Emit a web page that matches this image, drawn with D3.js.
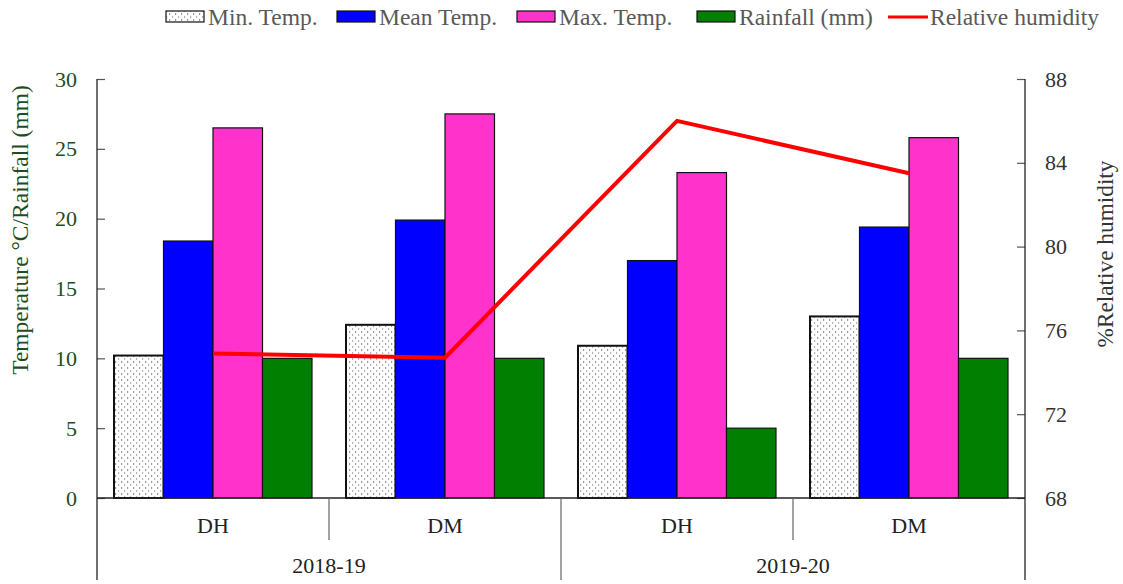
<!DOCTYPE html>
<html><head><meta charset="utf-8">
<script src="https://cdn.jsdelivr.net/npm/d3@7"></script>
<style>body{margin:0;background:#fff}svg{display:block}svg text{font-family:"Liberation Serif","DejaVu Serif",serif !important}</style>
</head><body>
<svg id="c" width="1123" height="584" font-family="Liberation Serif"></svg>
<script>
const groups = ["2018-19|DH","2018-19|DM","2019-20|DH","2019-20|DM"];
const subLabels = ["DH","DM","DH","DM"];
const years = ["2018-19","2019-20"];
const seriesNames = ["Min. Temp.","Mean Temp.","Max. Temp.","Rainfall (mm)"];
const minTemp = [10.2, 12.4, 10.9, 13.0];
const meanTemp = [18.4, 19.9, 17.0, 19.4];
const maxTemp = [26.5, 27.5, 23.3, 25.8];
const rainfall = [10.0, 10.0, 5.0, 10.0];
const humidity = [74.9, 74.7, 86.0, 83.5];
const leftTicks = [0,5,10,15,20,25,30];
const rightTicks = [68,72,76,80,84,88];
const colors = ["url(#dots)","#0000ff","#ff33cc","#007f00"];

const FONT = "Liberation Serif";
const svg = d3.select("#c");
const L = 97, R = 1025, T = 79, B = 498;
const defs = svg.append("defs");
const pat = defs.append("pattern").attr("id","dots").attr("patternUnits","userSpaceOnUse")
  .attr("width",6).attr("height",6);
pat.append("rect").attr("width",6).attr("height",6).attr("fill","#fff");
pat.append("path").attr("d","M1,1 L2.2,2 L1,3").attr("stroke","#777").attr("stroke-width",0.8).attr("fill","none");
pat.append("path").attr("d","M4,4 L5.2,5 L4,6").attr("stroke","#999").attr("stroke-width",0.8).attr("fill","none");

const x0 = d3.scaleBand().domain(groups).range([L,R]).paddingInner(0).paddingOuter(0);
const x1 = d3.scaleBand().domain(seriesNames).range([17, x0.bandwidth()-17]);
const y = d3.scaleLinear().domain([0,30]).range([B,T]);
const y2 = d3.scaleLinear().domain([68,88]).range([B,T]);
const data = [minTemp, meanTemp, maxTemp, rainfall];

groups.forEach((g,gi)=>{
  seriesNames.forEach((s,si)=>{
    svg.append("rect")
      .attr("x", x0(g)+x1(s)).attr("width", x1.bandwidth())
      .attr("y", y(data[si][gi])).attr("height", B - y(data[si][gi]))
      .attr("fill", colors[si]).attr("stroke","#111")
      .attr("stroke-width", si===0?2:1.2);
  });
});

const la = svg.append("g").attr("transform",`translate(${L},0)`)
  .call(d3.axisRight(y).tickValues(leftTicks).tickSize(8).tickFormat(d3.format("d")));
la.attr("font-family",FONT).attr("font-size",22);
la.select(".domain").remove();
la.selectAll(".tick line").attr("stroke","#555").attr("stroke-width",1.2);
la.selectAll(".tick text").attr("x",-20).attr("text-anchor","end").attr("fill","#1e4d1e");
svg.append("line").attr("x1",L).attr("x2",L).attr("y1",T).attr("y2",580).attr("stroke","#222").attr("stroke-width",1.3);

const ra = svg.append("g").attr("transform",`translate(${R},0)`)
  .call(d3.axisLeft(y2).tickValues(rightTicks).tickSize(8));
ra.attr("font-family",FONT).attr("font-size",22);
ra.select(".domain").remove();
ra.selectAll(".tick line").attr("stroke","#555").attr("stroke-width",1.2);
ra.selectAll(".tick text").attr("x",20).attr("text-anchor","start").attr("fill","#333");
svg.append("line").attr("x1",R).attr("x2",R).attr("y1",T).attr("y2",580).attr("stroke","#222").attr("stroke-width",1.3);

svg.append("line").attr("x1",L).attr("x2",R).attr("y1",B).attr("y2",B).attr("stroke","#222").attr("stroke-width",1.3);

groups.forEach((g,gi)=>{
  if(gi===0) return;
  const xx = x0(g);
  const long = gi===2;
  svg.append("line").attr("x1",xx).attr("x2",xx).attr("y1",B).attr("y2", long?580:540)
    .attr("stroke","#666").attr("stroke-width",1.2);
});
groups.forEach((g,gi)=>{
  svg.append("text").attr("x", x0(g)+x0.bandwidth()/2).attr("y",533)
    .attr("text-anchor","middle").attr("font-family",FONT).attr("font-size",22).attr("fill","#222").text(subLabels[gi]);
});
years.forEach((yr,i)=>{
  const cx = x0(groups[i*2]) + x0.bandwidth();
  svg.append("text").attr("x",cx).attr("y",573).attr("text-anchor","middle")
    .attr("font-family",FONT).attr("font-size",22).attr("fill","#222").text(yr);
});

const line = d3.line().x((d,i)=>x0(groups[i])+x0.bandwidth()/2).y(d=>y2(d));
svg.append("path").datum(humidity).attr("d",line).attr("fill","none")
  .attr("stroke","#ff0000").attr("stroke-width",4);

svg.append("text").attr("transform",`translate(28,230) rotate(-90)`)
  .attr("text-anchor","middle").attr("font-family",FONT).attr("font-size",23.5).attr("fill","#1e4d1e").text("Temperature °C/Rainfall (mm)");
svg.append("text").attr("transform",`translate(1113,254) rotate(-90)`)
  .attr("text-anchor","middle").attr("font-family",FONT).attr("font-size",23.3).attr("fill","#333").text("%Relative humidity");

const leg = [
  {x:166, t:"Min. Temp.", c:"url(#dots)"},
  {x:337, t:"Mean Temp.", c:"#0000ff"},
  {x:517, t:"Max. Temp.", c:"#ff33cc"},
  {x:697, t:"Rainfall (mm)", c:"#007f00"},
  {x:888, t:"Relative humidity", c:"line"}
];
leg.forEach(l=>{
  if(l.c==="line"){
    svg.append("line").attr("x1",l.x).attr("x2",l.x+40).attr("y1",17).attr("y2",17)
      .attr("stroke","#ff0000").attr("stroke-width",3);
  } else {
    svg.append("rect").attr("x",l.x).attr("y",11).attr("width",38).attr("height",11)
      .attr("fill",l.c).attr("stroke","#111").attr("stroke-width",1.2);
  }
  svg.append("text").attr("x",l.x+42).attr("y",25).attr("font-family",FONT).attr("font-size",23.5).attr("fill","#595959").text(l.t);
});
</script>
</body></html>
